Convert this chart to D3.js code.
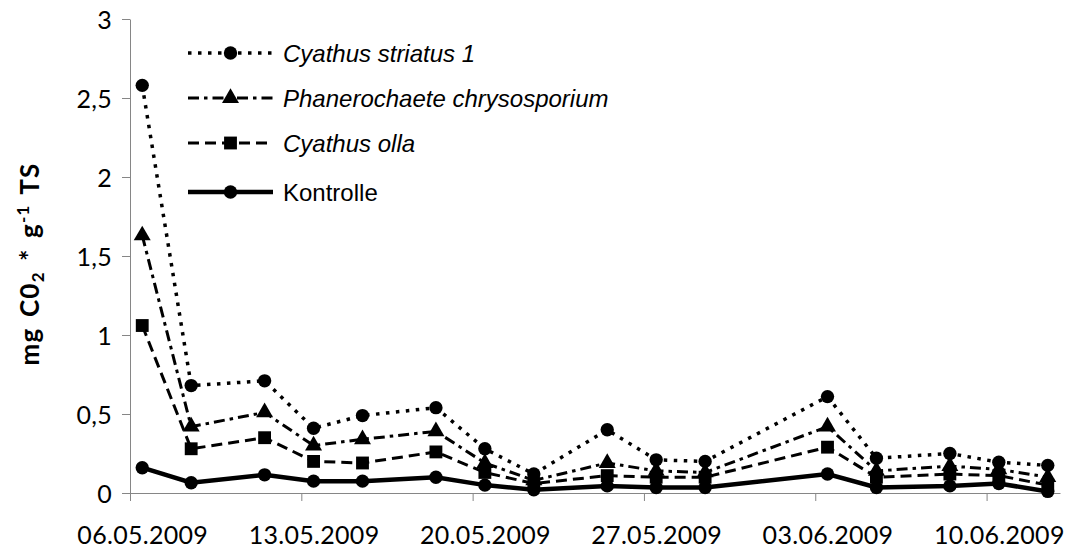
<!DOCTYPE html>
<html>
<head>
<meta charset="utf-8">
<script src="https://cdn.jsdelivr.net/npm/d3@7"></script>
<style>
  body { margin: 0; background: #fff; }
  svg { display: block; }
</style>
</head>
<body>
<svg id="chart" width="1074" height="554"></svg>
<script>
// sampling days (dd.mm.2009)
const dates = ["06.05", "08.05", "11.05", "13.05", "15.05", "18.05", "20.05", "22.05",
               "25.05", "27.05", "29.05", "03.06", "05.06", "08.06", "10.06", "12.06"];

const striatus  = [2.58, 0.68, 0.71, 0.41, 0.49, 0.54, 0.28, 0.12, 0.40, 0.21, 0.20, 0.61, 0.22, 0.25, 0.195, 0.175];
const phanero   = [1.63, 0.42, 0.51, 0.30, 0.34, 0.39, 0.19, 0.08, 0.19, 0.14, 0.13, 0.42, 0.14, 0.17, 0.15, 0.10];
const olla      = [1.06, 0.28, 0.35, 0.20, 0.19, 0.26, 0.13, 0.06, 0.11, 0.10, 0.10, 0.29, 0.10, 0.12, 0.11, 0.05];
const kontrolle = [0.16, 0.065, 0.115, 0.075, 0.075, 0.10, 0.05, 0.02, 0.045, 0.035, 0.035, 0.12, 0.035, 0.045, 0.06, 0.01];

const yTicks = [0, 0.5, 1, 1.5, 2, 2.5, 3];
const seriesNames = ["Cyathus striatus 1", "Phanerochaete chrysosporium", "Cyathus olla", "Kontrolle"];

const parseDay = d3.timeParse("%d.%m.%Y");
const day = s => parseDay(s + ".2009");

let margin = {top: 19, left: 130},
    plotW = 930,
    plotH = 474;

const svg = d3.select("#chart");
const g = svg.append("g").attr("transform", "translate(" + margin.left + "," + margin.top + ")");

// date axis, one slot per day, points in the middle of their day
const x = d3.scaleTime()
  .domain([day("06.05"), d3.timeDay.offset(day("06.05"), 38)])
  .range([0, plotW]);
const halfDay = (x(d3.timeDay.offset(day("06.05"), 1)) - x(day("06.05"))) / 2;

const y = d3.scaleLinear().domain([0, 3]).range([plotH, 0]);

const de = d3.formatLocale({decimal: ",", thousands: ".", grouping: [3], currency: ["", " €"]});
const yFmt = v => de.format("~g")(v);

const xTickDays = d3.timeDay.range(day("06.05"), day("12.06"), 7);

const xAxis = d3.axisBottom(x)
  .tickValues(xTickDays)
  .tickSize(8)
  .tickSizeOuter(0)
  .tickPadding(25)
  .tickFormat(d3.timeFormat("%d.%m.%Y"));

const yAxis = d3.axisLeft(y)
  .tickValues(yTicks)
  .tickSize(8)
  .tickSizeOuter(0)
  .tickPadding(10)
  .tickFormat(yFmt);

const gx = g.append("g")
  .attr("transform", "translate(0," + plotH + ")")
  .call(xAxis);
gx.selectAll("text").attr("dx", halfDay);

const gy = g.append("g").call(yAxis);

[gx, gy].forEach(a => {
  a.select(".domain").attr("stroke", "#868686");
  a.selectAll(".tick line").attr("stroke", "#868686");
  a.selectAll("text")
    .attr("fill", "#000")
    .style("font-family", "Lato, 'Open Sans', sans-serif")
    .style("font-size", "25px")
    .style("letter-spacing", "0.3px");
});
gy.selectAll("text").attr("dy", "0.36em");

// y title
const title = svg.append("text")
  .attr("transform", "translate(39,264) rotate(-90)")
  .attr("text-anchor", "middle")
  .style("font-family", "Lato, 'Open Sans', sans-serif")
  .style("font-weight", "bold")
  .style("font-size", "26px")
  .style("letter-spacing", "1.2px")
  .style("word-spacing", "3px");
title.append("tspan").text("mg C0");
title.append("tspan").text("2").style("font-size", "17px").attr("dy", 5);
title.append("tspan").text(" * g").attr("dy", -5);
title.append("tspan").text("-1").style("font-size", "17px").attr("dy", -10);
title.append("tspan").text(" TS").attr("dy", 10);

// series
const styles = [
  {name: seriesNames[0], vals: striatus,  dash: "3.5,6.5", width: 3.5, marker: "circle"},
  {name: seriesNames[1], vals: phanero,   dash: "11,5,3.5,5", width: 3, marker: "triangle"},
  {name: seriesNames[2], vals: olla,      dash: "11,6", width: 3, marker: "square"},
  {name: seriesNames[3], vals: kontrolle, dash: null, width: 4.5, marker: "circle"}
];

const symbolFor = {
  circle: d3.symbol().type(d3.symbolCircle).size(140),
  triangle: d3.symbol().type(d3.symbolTriangle).size(125),
  square: d3.symbol().type(d3.symbolSquare).size(165)
};

const line = d3.line()
  .x(d => x(day(d.date)) + halfDay)
  .y(d => y(d.v));

styles.forEach(s => {
  const pts = dates.map((d, i) => ({date: d, v: s.vals[i]}));
  g.append("path")
    .datum(pts)
    .attr("fill", "none")
    .attr("stroke", "#000")
    .attr("stroke-width", s.width)
    .attr("stroke-dasharray", s.dash)
    .attr("d", line);
  g.selectAll(null)
    .data(pts)
    .enter().append("path")
    .attr("transform", d => "translate(" + (x(day(d.date)) + halfDay) + "," + y(d.v) + ")")
    .attr("d", symbolFor[s.marker]())
    .attr("fill", "#000");
});

// legend
const legendY = [53, 98, 143, 192];
const legend = svg.selectAll(".legend")
  .data(styles)
  .enter().append("g")
  .attr("class", "legend")
  .attr("transform", (d, i) => "translate(188," + legendY[i] + ")");

legend.append("line")
  .attr("x1", 0).attr("x2", 85)
  .attr("stroke", "#000")
  .attr("stroke-width", d => d.width)
  .attr("stroke-dasharray", d => d.dash);

legend.append("path")
  .attr("transform", "translate(42.5,0)")
  .attr("d", d => symbolFor[d.marker]())
  .attr("fill", "#000");

legend.append("text")
  .attr("x", 95)
  .attr("dy", "0.36em")
  .style("font-family", "'Liberation Sans', Arial, sans-serif")
  .style("font-size", "24px")
  .style("font-style", (d, i) => i < 3 ? "italic" : "normal")
  .text(d => d.name);
</script>
</body>
</html>
